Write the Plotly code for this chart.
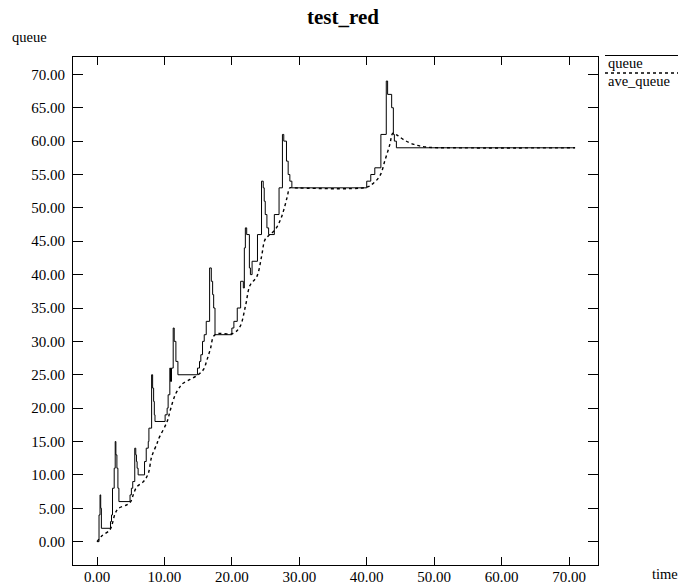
import plotly.graph_objects as go

# queue trace (time, packets) - step values
queue_t = [0.0, 0.3, 0.45, 0.55, 0.65,
           2.0, 2.15, 2.3, 2.55, 2.7, 2.8, 2.95, 3.1, 3.25,
           4.9, 5.1, 5.3, 5.6, 5.75, 5.85, 5.95, 6.1,
           7.05, 7.3, 7.6, 7.7, 8.1, 8.25, 8.4, 8.5, 8.6,
           10.1, 10.4, 10.55, 10.8, 10.9, 11.05, 11.3, 11.45, 11.7, 12.0,
           14.9, 15.2, 15.4, 15.65, 15.9, 16.2, 16.7, 16.95, 17.15, 17.3, 17.5,
           20.0, 20.3, 20.8, 21.3, 21.7, 21.85, 22.0, 22.2, 22.6, 22.75, 23.0, 23.8,
           24.4, 24.65, 24.8, 24.95, 25.2, 25.45, 26.3, 27.0, 27.5, 27.7, 28.1, 28.35,
           28.6, 28.9,
           40.0, 40.6, 41.2, 42.1, 42.9, 43.1, 43.7, 43.95, 44.1, 44.4, 70.9]
queue_v = [0, 4, 7, 5, 2,
           3, 4, 8, 11, 15, 13, 11, 8, 6,
           7, 8, 9, 14, 13, 12, 11, 10,
           12, 14, 15, 17, 25, 23, 21, 19, 18,
           19, 20, 22, 26, 24, 26, 32, 30, 27, 25,
           26, 27, 28, 30, 31, 33, 41, 39, 37, 35, 31,
           32, 33, 35, 39, 38, 44, 47, 46, 41, 40, 42, 46,
           54, 53, 51, 49, 47, 46, 49, 53, 61, 60, 57, 55,
           54, 53,
           54, 55, 56, 61, 69, 67, 65, 61, 60, 59, 59]

# average queue (time, value)
ave_t = [0.0, 0.7, 1.9, 2.3, 2.7, 3.2, 4.4, 5.0, 5.4, 5.9, 6.9, 7.6, 8.1, 8.9,
         9.1, 10.4, 10.9, 11.6, 12.3, 12.6, 13.8, 15.0, 15.8, 16.3, 16.8, 17.5,
         20.2, 21.2, 22.0, 22.7, 23.7, 24.4, 24.9, 25.4, 26.4, 27.2, 27.7, 28.2,
         28.6, 29.0, 40.0, 41.0, 42.0, 42.7, 43.4, 43.9, 44.5, 45.5, 47.0, 48.9,
         52.9, 70.9]
ave_v = [0.0, 0.85, 1.75, 2.8, 4.25, 5.0, 5.5, 6.0, 7.1, 8.2, 9.0, 10.2, 12.7, 14.7,
         15.3, 18.0, 19.8, 22.0, 23.2, 23.6, 24.3, 25.0, 25.8, 27.2, 28.8, 31.0,
         31.2, 32.2, 35.2, 38.4, 39.7, 42.7, 45.2, 45.8, 46.7, 48.2, 49.7, 51.6,
         53.0, 53.0, 53.1, 53.7, 54.9, 57.1, 59.4, 61.2, 60.9, 60.2, 59.5, 59.1,
         59.0, 59.0]

x_ticks = [0, 10, 20, 30, 40, 50, 60, 70]
x_ticktext = ["%.2f" % v for v in x_ticks]
y_ticks = [0, 5, 10, 15, 20, 25, 30, 35, 40, 45, 50, 55, 60, 65, 70]
y_ticktext = ["%.2f" % v for v in y_ticks]

FONT = "'Liberation Serif', 'Times New Roman', 'DejaVu Serif', serif"

fig = go.Figure()
fig.add_trace(go.Scatter(x=queue_t, y=queue_v, mode="lines", line_shape="hv",
                         line=dict(color="black", width=1), name="queue",
                         showlegend=False))
fig.add_trace(go.Scatter(x=ave_t, y=ave_v, mode="lines", line_shape="spline",
                         line=dict(color="black", width=1.4, dash="dot"),
                         name="ave_queue", showlegend=False))

W, H = 678, 584
L, R, T, B = 73, 80, 57, 19
pw, ph = W - L - R, H - T - B


def px(x):
    return (x - L) / pw


def py(y):
    return (H - B - y) / ph


fig.update_layout(
    width=W, height=H,
    template="none",
    paper_bgcolor="white", plot_bgcolor="white",
    margin=dict(l=L, r=R, t=T, b=B, pad=0),
    font=dict(family=FONT, size=14, color="black"),
    title=dict(text="<b>test_red</b>", x=343 / W, xanchor="center",
               y=1 - 17 / H, yanchor="middle", font=dict(size=21, family=FONT)),
    xaxis=dict(range=[-3.56, 74.3], tickvals=x_ticks, ticktext=x_ticktext,
               ticks="inside", ticklen=8, tickwidth=1, tickcolor="black",
               showline=True, linecolor="black", linewidth=1, mirror="allticks",
               showgrid=False, zeroline=False, automargin=False,
               ticklabelstandoff=-2,
               tickfont=dict(family=FONT, size=15)),
    yaxis=dict(range=[-3.5, 72.6], tickvals=y_ticks, ticktext=y_ticktext,
               ticks="inside", ticklen=10, tickwidth=1, tickcolor="black",
               showline=True, linecolor="black", linewidth=1, mirror="allticks",
               showgrid=False, zeroline=False, automargin=False,
               ticklabelstandoff=4, tickfont=dict(family=FONT, size=15)),
    showlegend=False,
)

annotations = [
    dict(text="queue", x=px(10), y=py(37), xanchor="left", yanchor="middle"),
    dict(text="time", x=px(650), y=py(574), xanchor="left", yanchor="middle"),
    dict(text="queue", x=px(606), y=py(63), xanchor="left", yanchor="middle"),
    dict(text="ave_queue", x=px(606), y=py(81), xanchor="left", yanchor="middle"),
]
for a in annotations:
    a.update(xref="paper", yref="paper", showarrow=False,
             font=dict(family=FONT, size=14.5, color="black"))
fig.update_layout(annotations=annotations)

fig.add_shape(type="line", xref="paper", yref="paper", x0=px(605), x1=px(678),
              y0=py(55.5), y1=py(55.5), line=dict(color="black", width=1))
fig.add_shape(type="line", xref="paper", yref="paper", x0=px(605), x1=px(678),
              y0=py(73), y1=py(73), line=dict(color="black", width=1.4, dash="dot"))

fig.write_html("out.html")
